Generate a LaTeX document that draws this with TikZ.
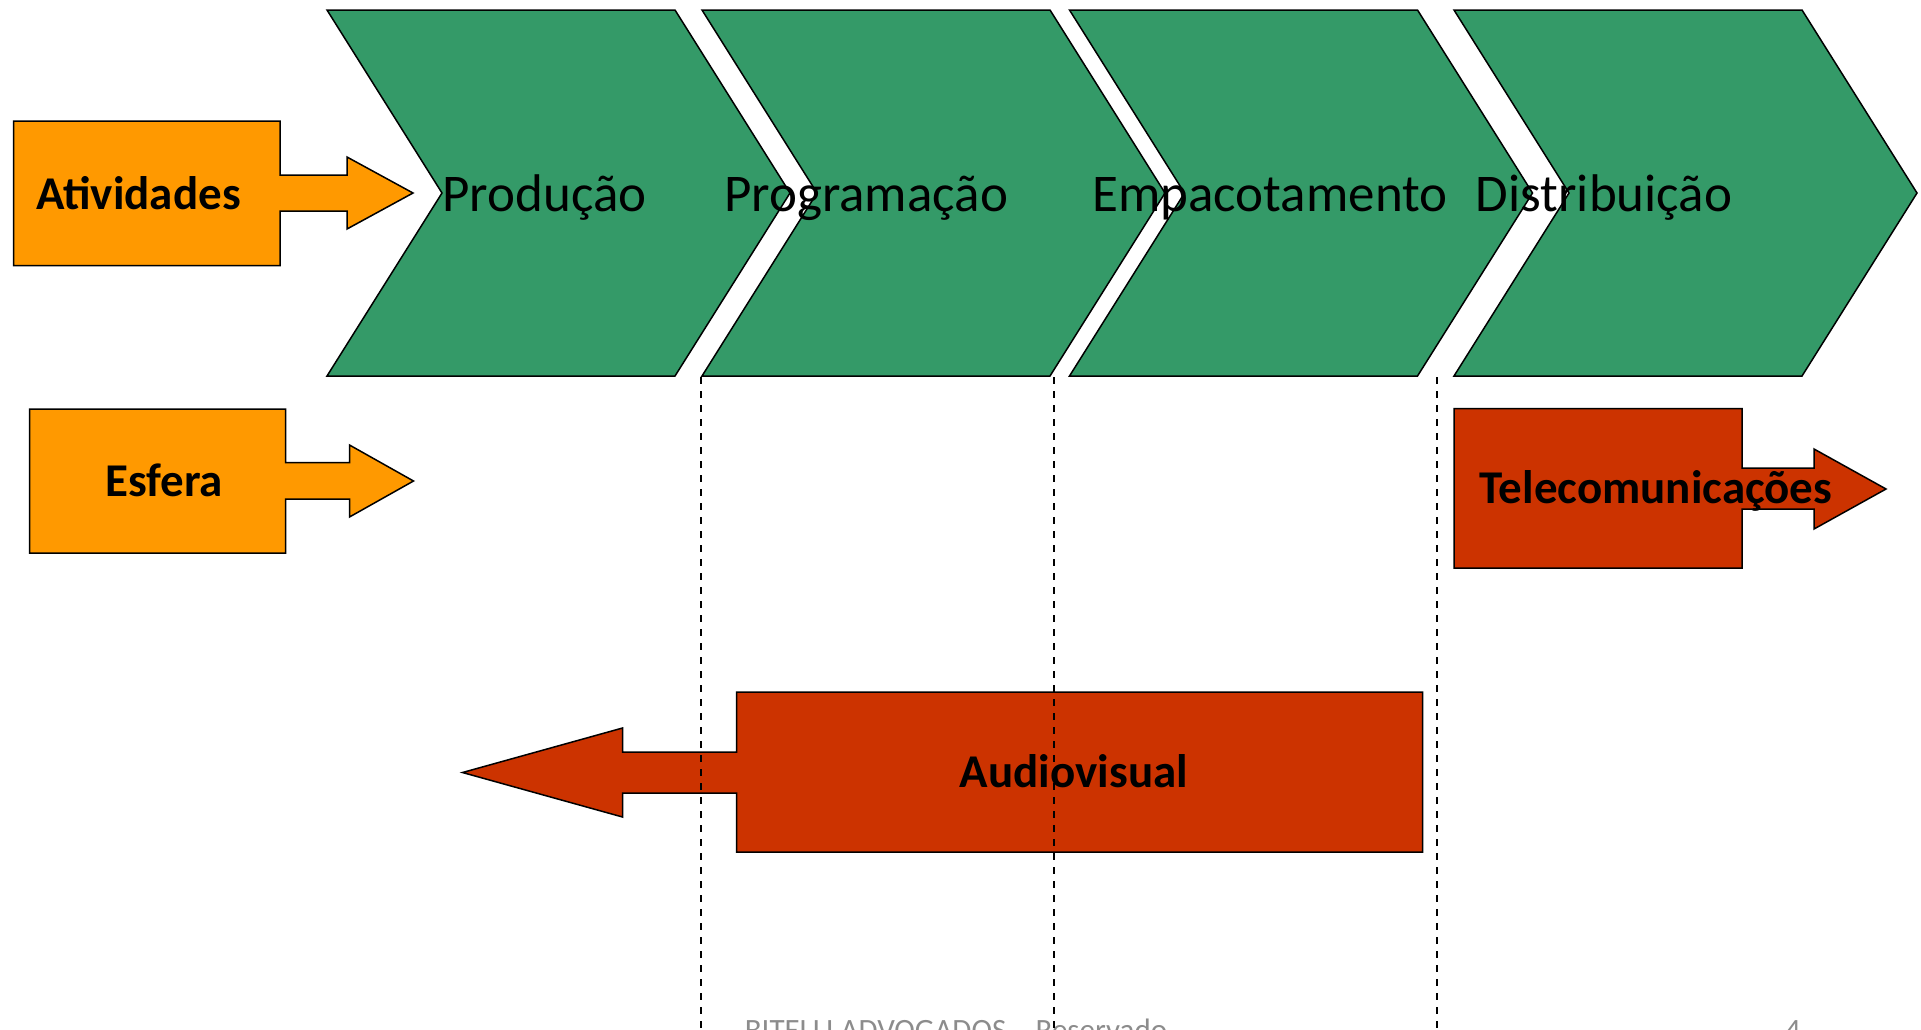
\documentclass[tikz,border=0pt]{standalone}
\usepackage{fontspec}
\setmainfont{Carlito}
\definecolor{chevgreen}{RGB}{52,154,104}
\definecolor{boxorange}{RGB}{255,153,0}
\definecolor{boxred}{RGB}{204,51,0}
\definecolor{footgray}{RGB}{140,140,140}
\begin{document}
\begin{tikzpicture}[x=1pt,y=-1pt,
  chev/.style={fill=chevgreen,draw=black,line width=1.5pt,line join=miter},
  orangearrow/.style={fill=boxorange,draw=black,line width=1.5pt,line join=miter},
  redarrow/.style={fill=boxred,draw=black,line width=1.5pt,line join=miter},
  lab/.style={anchor=base,inner sep=0pt,font=\fontsize{53}{60}\selectfont},
  blab/.style={anchor=base,inner sep=0pt,font=\fontsize{47}{54}\selectfont\bfseries},
  foot/.style={anchor=base,inner sep=0pt,text=footgray,font=\fontsize{31}{36}\selectfont},
  sepline/.style={draw=black,line width=2pt,dash pattern=on 7pt off 7pt}]
\useasboundingbox (0,0) rectangle (1921,1029);
\clip (0,0) rectangle (1921,1029);
% chevrons
\foreach \L in {327,702,1069.5,1454}{
  \path[chev] (\L,10) -- ({\L+348},10) -- ({\L+463},193) -- ({\L+348},376) -- (\L,376) -- ({\L+115},193) -- cycle;
}
% orange arrows
\path[orangearrow] (13.5,121) -- (280,121) -- (280,175) -- (347,175) -- (347,157) -- (413,193) -- (347,229) -- (347,211) -- (280,211) -- (280,265.5) -- (13.5,265.5) -- cycle;
\path[orangearrow] (29.5,409) -- (285.5,409) -- (285.5,462.5) -- (349.5,462.5) -- (349.5,445) -- (413.5,481) -- (349.5,517) -- (349.5,499) -- (285.5,499) -- (285.5,553) -- (29.5,553) -- cycle;
% red arrows
\path[redarrow] (1454,408.5) -- (1742,408.5) -- (1742,468) -- (1814,468) -- (1814,449) -- (1886,489) -- (1814,529) -- (1814,509) -- (1742,509) -- (1742,568) -- (1454,568) -- cycle;
\path[redarrow] (1422.5,692) -- (736.5,692) -- (736.5,752) -- (622.5,752) -- (622.5,728) -- (462.5,772.5) -- (622.5,817) -- (622.5,793) -- (736.5,793) -- (736.5,852) -- (1422.5,852) -- cycle;
% texts
\node[lab] (prod) at (544.5,211) {Produção};
\node[lab] (prog) at (866,211) {Programação};
\node[lab] (emp) at (1270,211) {Empacotamento};
\node[lab] (dist) at (1604,211) {Distribuição};
\node[blab] (ativ) at (138.5,209.5) {Atividades};
\node[blab] (esf) at (164,496.7) {Esfera};
\node[blab] (tel) at (1656,503) {Telecomunicações};
\node[blab] (av) at (1074,787) {Audiovisual};
\node[foot] (footer) at (956,1040) {BITELLI ADVOGADOS – Reservado};
\node[foot] (pnum) at (1793,1040) {4};
% dashed separators
\coordinate (s1a) at (701,377); \coordinate (s1b) at (701,1029);
\coordinate (s2a) at (1054,377);  \coordinate (s2b) at (1054,1029);
\coordinate (s3a) at (1437,377); \coordinate (s3b) at (1437,1029);
\draw[sepline] (s1a) -- (s1b);
\draw[sepline] (s2a) -- (s2b);
\draw[sepline] (s3a) -- (s3b);
\end{tikzpicture}
\end{document}
